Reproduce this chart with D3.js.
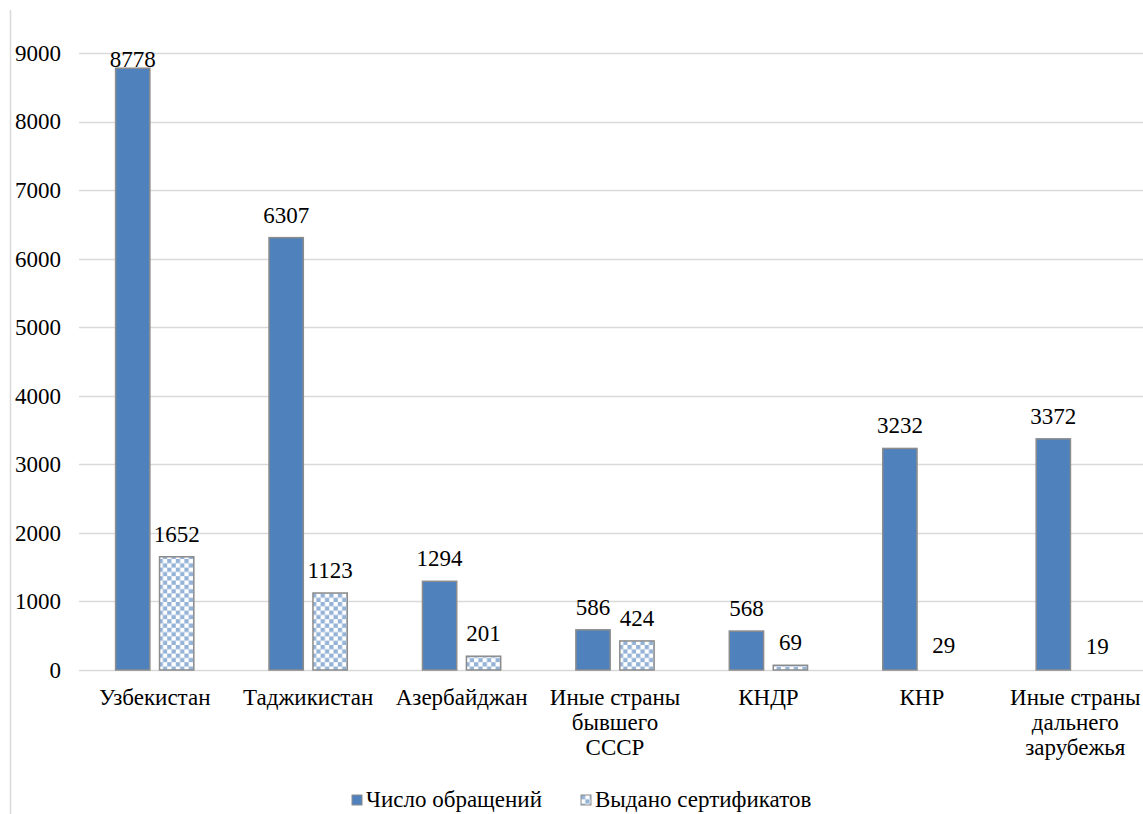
<!DOCTYPE html>
<html>
<head>
<meta charset="utf-8">
<script src="https://cdn.jsdelivr.net/npm/d3@7"></script>
<style>
  body { margin: 0; background: #fff; }
  svg text { font-family: "Liberation Serif", "DejaVu Serif", serif; fill: #000; }
</style>
</head>
<body>
<svg width="1143" height="814"></svg>
<script>
// Data
const categories = [
  ['Узбекистан'],
  ['Таджикистан'],
  ['Азербайджан'],
  ['Иные страны', 'бывшего', 'СССР'],
  ['КНДР'],
  ['КНР'],
  ['Иные страны', 'дальнего', 'зарубежья']
]
const seriesNames = ['Число обращений', 'Выдано сертификатов']
const requests = [8778, 6307, 1294, 586, 568, 3232, 3372]
const certificates = [1652, 1123, 201, 424, 69, 29, 19]
const yTicks = [0, 1000, 2000, 3000, 4000, 5000, 6000, 7000, 8000, 9000]

const svg = d3.select('svg')
const width = +svg.attr('width')
const height = +svg.attr('height')

const blue = '#4f81bd'
const lightBlue = '#95b3d7'
const barStroke = '#8c8c8c'
const gridColor = '#d9d9d9'

// checkerboard pattern for second series
const defs = svg.append('defs')
const cell = 4.3
const pat = defs.append('pattern')
    .attr('id', 'checker')
    .attr('patternUnits', 'userSpaceOnUse')
    .attr('width', cell * 2)
    .attr('height', cell * 2)
pat.append('rect').attr('width', cell * 2).attr('height', cell * 2).attr('fill', '#fff')
pat.append('rect').attr('width', cell).attr('height', cell).attr('fill', lightBlue)
pat.append('rect').attr('x', cell).attr('y', cell).attr('width', cell).attr('height', cell).attr('fill', lightBlue)

// left frame line
svg.append('line')
    .attr('x1', 10.5).attr('x2', 10.5)
    .attr('y1', 10).attr('y2', height)
    .attr('stroke', gridColor)
    .attr('stroke-width', 1.5)

const keys = categories.map((c, i) => i)

const x0 = d3.scaleBand()
    .domain(keys)
    .range([78, 1152])
    .paddingInner(0.49)
    .paddingOuter(0.245)

const x1 = d3.scaleBand()
    .domain([0, 1])
    .range([0, x0.bandwidth()])
    .paddingInner(0.22)

const y = d3.scaleLinear()
    .domain([0, 9000])
    .range([670, 53])

// gridlines
svg.append('g')
  .selectAll('line')
  .data(yTicks)
  .join('line')
    .attr('x1', 79).attr('x2', width)
    .attr('y1', d => Math.round(y(d)) + 0.5)
    .attr('y2', d => Math.round(y(d)) + 0.5)
    .attr('stroke', gridColor)
    .attr('stroke-width', 1.5)

// y axis labels
const yAxis = d3.axisLeft(y)
    .tickValues(yTicks)
    .tickSize(0)
    .tickPadding(0)
    .tickFormat(d3.format('d'))

const yG = svg.append('g')
    .attr('transform', 'translate(61,0)')
    .call(yAxis)
    .attr('font-family', null)
    .attr('font-size', null)
yG.select('.domain').remove()
yG.selectAll('text')
    .style('font-size', '23px')
    .attr('fill', '#000')

const rows = keys.map(i => ({ i, values: [requests[i], certificates[i]] }))

const groups = svg.append('g')
  .selectAll('g')
  .data(rows)
  .join('g')
    .attr('transform', d => `translate(${x0(d.i)},0)`)

// very small bars are not visible in the original
groups.selectAll('rect')
  .data(d => d.values.map((v, s) => ({ s, v })))
  .join('rect')
    .attr('x', d => x1(d.s))
    .attr('width', x1.bandwidth())
    .attr('y', d => y(d.v))
    .attr('height', d => y(0) - y(d.v))
    .attr('fill', d => d.s === 0 ? blue : 'url(#checker)')
    .attr('stroke', barStroke)
    .attr('stroke-width', 1.5)
    .attr('opacity', d => d.v < 50 ? 0 : 1)

// value labels
groups.selectAll('text.val')
  .data(d => d.values.map((v, s) => ({ s, v })))
  .join('text')
    .attr('class', 'val')
    .attr('x', d => x1(d.s) + x1.bandwidth() / 2)
    .attr('y', d => Math.max(y(d.v) - 15, 67))
    .attr('text-anchor', 'middle')
    .style('font-size', '23px')
    .text(d => d.v)

// category labels
const cats = svg.append('g')
  .selectAll('text')
  .data(rows)
  .join('text')
    .attr('text-anchor', 'middle')
    .attr('x', d => x0(d.i) + x0.bandwidth() / 2)
    .attr('y', 705)
    .style('font-size', '23px')

cats.selectAll('tspan')
  .data(d => categories[d.i].map(t => ({ t, x: x0(d.i) + x0.bandwidth() / 2 })))
  .join('tspan')
    .attr('x', d => d.x)
    .attr('dy', (d, k) => k === 0 ? 0 : 25)
    .text(d => d.t)

// legend
const legendItems = [
  { name: seriesNames[0], x: 352, fill: blue },
  { name: seriesNames[1], x: 581, fill: 'url(#checker)' }
]
const legend = svg.append('g')
  .selectAll('g')
  .data(legendItems)
  .join('g')
    .attr('transform', d => `translate(${d.x},795)`)

legend.append('rect')
    .attr('width', 10).attr('height', 10)
    .attr('fill', d => d.fill)
    .attr('stroke', barStroke)

legend.append('text')
    .attr('x', 14)
    .attr('y', 12)
    .style('font-size', '23px')
    .text(d => d.name)
</script>
</body>
</html>
